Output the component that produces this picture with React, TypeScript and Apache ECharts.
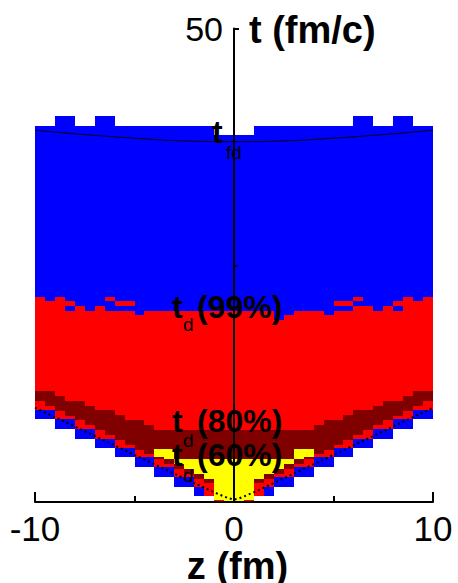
import React, { useEffect, useRef } from "react";
import * as echarts from "echarts";

// column left edges (fm)
const colZ = [
  -10, -9.5, -9, -8.5, -8, -7.5, -7, -6.5, -6, -5.5, -5, -4.5, -4, -3.5, -3, -2.5, -2, -1.5, -1, -0.5,
  0, 0.5, 1, 1.5, 2, 2.5, 3, 3.5, 4, 4.5, 5, 5.5, 6, 6.5, 7, 7.5, 8, 8.5, 9, 9.5,
];
const CELL = 0.5;

// blue layer (t in fm/c)
const blueBottom = [
  8.73, 8.73, 7.71, 7.71, 6.68, 6.68, 5.67, 5.67, 4.72, 4.72, 3.66, 3.66, 2.61, 2.61, 1.62, 1.62, 0.63, 0.63, 0, 0,
  0, 0, 0.63, 0.63, 1.62, 1.62, 2.61, 2.61, 3.66, 3.66, 4.72, 4.72, 5.67, 5.67, 6.68, 6.68, 7.71, 7.71, 8.73, 8.73,
];
const blueTop = [
  39.74, 39.74, 40.73, 40.73, 39.74, 39.74, 40.73, 40.73, 39.74, 39.74, 39.74, 39.74, 39.74, 39.74, 39.74, 39.74, 39.74, 39.74, 38.75, 38.75,
  38.75, 38.75, 39.74, 39.74, 39.74, 39.74, 39.74, 39.74, 39.74, 39.74, 39.74, 39.74, 40.73, 40.73, 39.74, 39.74, 40.73, 40.73, 39.74, 39.74,
];
// red layer
const redBottom = [
  9.71, 9.71, 8.73, 8.73, 7.71, 7.71, 6.68, 6.68, 5.67, 5.67, 4.72, 4.72, 3.66, 3.66, 2.61, 2.61, 1.62, 0.63, 0, 0,
  0, 0, 0.63, 1.62, 2.61, 2.61, 3.66, 3.66, 4.72, 4.72, 5.67, 5.67, 6.68, 6.68, 7.71, 7.71, 8.73, 8.73, 9.71, 9.71,
];
const redTop = [
  21.68, 21.22, 21.68, 21.22, 20.7, 20.2, 20.7, 20.2, 20.2, 20.2, 19.75, 20.2, 20.2, 20.2, 20.2, 20.2, 20.2, 20.2, 20.2, 20.2,
  20.2, 20.2, 20.2, 20.2, 19.22, 19.75, 20.2, 20.2, 20.2, 19.75, 20.2, 20.2, 20.7, 20.7, 20.2, 20.7, 21.22, 21.68, 21.22, 21.68,
];
// dark red layer
const darkBottom = [
  10.67, 10.15, 9.64, 9.13, 8.62, 8.1, 7.59, 7.08, 6.57, 6.06, 5.54, 5.03, 4.52, 4.01, 3.5, 2.98, 2.47, 1.96, 0.25, 0.25,
  0.25, 0.25, 1.96, 2.47, 2.98, 3.5, 4.01, 4.52, 5.03, 5.54, 6.06, 6.57, 7.08, 7.59, 8.1, 8.62, 9.13, 9.64, 10.15, 10.67,
];
const darkTop = [
  11.72, 11.72, 11.19, 10.67, 10.67, 10.17, 9.68, 9.68, 9.19, 8.66, 8.66, 8.13, 7.6, 7.6, 7.6, 7.6, 7.6, 7.6, 7.6, 7.6,
  7.6, 7.6, 7.6, 7.6, 7.6, 7.6, 7.6, 7.6, 8.13, 8.66, 8.66, 9.19, 9.68, 9.68, 10.17, 10.67, 10.67, 11.19, 11.72, 11.72,
];
// yellow layer (columns 12..27)
const yellowCols = [12, 13, 14, 15, 16, 17, 18, 19, 20, 21, 22, 23, 24, 25, 26, 27];
const yellowBottom = [4.78, 4.52, 4.01, 3.5, 2.98, 2.47, 0.25, 0, 0, 0.25, 2.47, 2.98, 3.5, 4.01, 4.52, 4.78];
const yellowTop = [5.62, 5.62, 4.55, 4.55, 4.55, 4.55, 4.55, 4.55, 4.55, 4.55, 4.55, 4.55, 4.55, 4.55, 5.62, 5.62];

// isolated cells near t_d(99%): [column, t0, t1]
const redStrays = [
  [7, 21.22, 21.68], [8, 20.7, 21.22], [9, 20.7, 21.22],
  [30, 20.7, 21.22], [31, 20.7, 21.22], [32, 21.22, 21.68],
];
const blueStrays = [[3, 20.2, 20.7], [36, 20.2, 20.7]];

// t_fd curve
const fdZ = [-10, -7.5, -5, -2.5, 0, 2.5, 5, 7.5, 10];
const fdT = [39.25, 38.8, 38.42, 38.13, 38.05, 38.13, 38.42, 38.8, 39.25];
// dotted light-cone line
const coneZ = [-10, -5, -2, -1, -0.5, -0.25, 0, 0.25, 0.5, 1, 2, 5, 10];
const coneT = [9.96, 4.98, 2.0, 1.03, 0.58, 0.38, 0.25, 0.38, 0.58, 1.03, 2.0, 4.98, 9.96];

const FONT = "'Liberation Sans', Arial, Helvetica, sans-serif";

function cells(bottom: number[], top: number[], cols: number[]) {
  return cols.map((c, k) => [colZ[c], colZ[c] + CELL, bottom[k], top[k]]);
}
const allCols = colZ.map((_, i) => i);

function rectSeries(name: string, color: string, data: number[][]) {
  return {
    type: "custom",
    name,
    coordinateSystem: "cartesian2d",
    encode: { x: [0, 1], y: [2, 3] },
    data,
    silent: true,
    renderItem: (_p: any, api: any) => {
      const a = api.coord([api.value(0), api.value(3)]);
      const b = api.coord([api.value(1), api.value(2)]);
      const x0 = Math.round(a[0]);
      const x1 = Math.round(b[0]);
      const y0 = Math.round(a[1]);
      const y1 = Math.round(b[1]);
      return {
        type: "rect",
        shape: { x: x0, y: y0, width: x1 - x0, height: y1 - y0 },
        style: { fill: color },
      };
    },
  };
}

function txt(text: string, x: number, y: number, size: number, bold: boolean, align = "left") {
  return {
    type: "text",
    x,
    y,
    z: 100,
    style: {
      text,
      fill: "#000",
      font: `${bold ? "bold " : ""}${size}px ${FONT}`,
      textAlign: align,
      textVerticalAlign: "middle",
    },
  };
}

export default function App() {
  const ref = useRef<HTMLDivElement>(null);
  useEffect(() => {
    if (!ref.current) return;
    const chart = echarts.init(ref.current, null, { renderer: "svg" });
    const blueData = cells(blueBottom, blueTop, allCols);
    const redData = cells(redBottom, redTop, allCols).concat(
      redStrays.map((s) => [colZ[s[0]], colZ[s[0]] + CELL, s[1], s[2]])
    );
    const blueStrayData = blueStrays.map((s) => [colZ[s[0]], colZ[s[0]] + CELL, s[1], s[2]]);
    const darkData = cells(darkBottom, darkTop, allCols);
    const yellowData = cells(yellowBottom, yellowTop, yellowCols);

    const big = 32;
    const sub = 19;
    chart.setOption({
      animation: false,
      grid: { left: 35, right: 25, top: 28.5, bottom: 81, containLabel: false, outerBoundsMode: "none" },
      xAxis: {
        type: "value",
        min: -10,
        max: 10,
        interval: 10,
        z: 10,
        axisLine: { onZero: false, lineStyle: { color: "#000", width: 2 } },
        axisTick: { inside: true, length: 10, lineStyle: { color: "#000", width: 2 } },
        minorTick: { show: true, splitNumber: 2, length: 6, lineStyle: { color: "#000", width: 2 } },
        axisLabel: { color: "#000", fontSize: 35, margin: 9, fontFamily: FONT },
        splitLine: { show: false },
        minorSplitLine: { show: false },
      },
      yAxis: {
        type: "value",
        min: 0,
        max: 50,
        interval: 50,
        z: 10,
        position: "left",
        offset: -199,
        axisLine: { onZero: false, lineStyle: { color: "#000", width: 2 } },
        axisTick: { inside: true, length: 5, lineStyle: { color: "#000", width: 2 } },
        minorTick: { show: true, splitNumber: 2, length: 4, lineStyle: { color: "#000", width: 1.5 } },
        axisLabel: { color: "#000", fontSize: 34, margin: 11, fontFamily: FONT, showMinLabel: false },
        splitLine: { show: false },
        minorSplitLine: { show: false },
      },
      series: [
        rectSeries("blue", "#0000ff", blueData),
        rectSeries("red", "#ff0000", redData),
        rectSeries("blueStray", "#0000ff", blueStrayData),
        rectSeries("darkred", "#800000", darkData),
        rectSeries("yellow", "#ffff00", yellowData),
        {
          type: "line",
          data: fdZ.map((z, i) => [z, fdT[i]]),
          smooth: true,
          showSymbol: false,
          silent: true,
          lineStyle: { color: "#000", width: 1 },
          z: 5,
        },
        {
          type: "line",
          data: coneZ.map((z, i) => [z, coneT[i]]),
          showSymbol: false,
          silent: true,
          lineStyle: { color: "#000", width: 2, type: [2, 3] },
          z: 5,
        },
      ],
      graphic: [
        txt("t (fm/c)", 249, 30, 38, true),
        txt("z (fm)", 237.5, 566, 38, true, "center"),
        txt("t", 212, 131.5, big, true),
        txt("fd", 226, 152, sub, false),
        txt("t", 172, 306.9, big, true),
        txt("d", 183, 324, sub, false),
        txt("(99%)", 197, 306.9, big, true),
        txt("t", 172, 420.9, big, true),
        txt("d", 183, 440.8, sub, false),
        txt("(80%)", 197, 420.9, big, true),
        txt("t", 172, 454.9, big, true),
        txt("d", 183, 475.8, sub, false),
        txt("(60%)", 197, 454.9, big, true),
      ],
    });
    return () => chart.dispose();
  }, []);
  return (
    <div
      ref={ref}
      style={{ position: "absolute", left: 0, top: 0, width: 458, height: 583, background: "#fff" }}
    />
  );
}
